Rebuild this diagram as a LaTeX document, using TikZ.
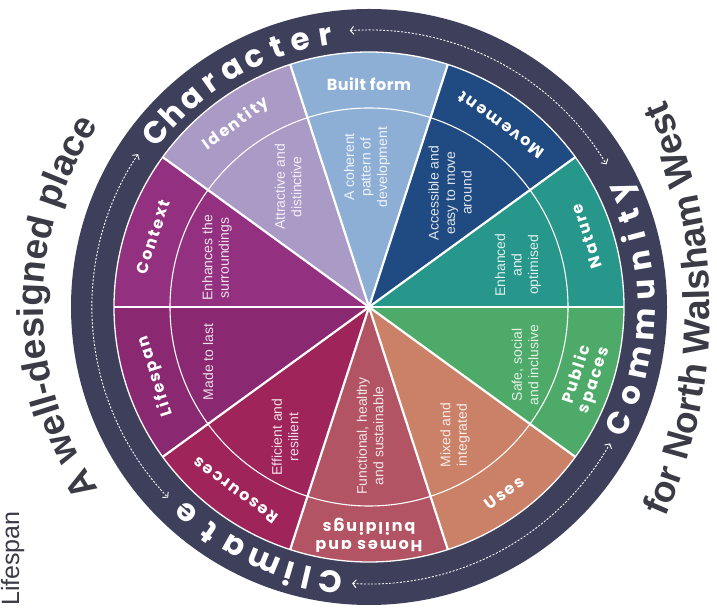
\documentclass[tikz,border=0pt]{standalone}
\usepackage{fontspec}
\setmainfont{Liberation Sans}
\newfontfamily\ringfont{Poppins}
\newfontfamily\labfont[LetterSpace=12]{Poppins}
\newfontfamily\labfontn[LetterSpace=3]{Poppins}
\newfontfamily\descfont{Liberation Sans}
\usetikzlibrary{arrows.meta,decorations.text}

\definecolor{ringc}{HTML}{3E3F5B}
\definecolor{cIdentity}{HTML}{AA9AC6}
\definecolor{cBuilt}{HTML}{8EAFD5}
\definecolor{cMove}{HTML}{1F4B82}
\definecolor{cNature}{HTML}{27968B}
\definecolor{cPublic}{HTML}{4DAA68}
\definecolor{cUses}{HTML}{CB8168}
\definecolor{cHomes}{HTML}{B25463}
\definecolor{cRes}{HTML}{9E2459}
\definecolor{cLife}{HTML}{8A2872}
\definecolor{cContext}{HTML}{933180}
\definecolor{txtgray}{HTML}{3B3B45}

\tikzset{
  wedgeline/.style={white, line width=2.2pt},
  ringletter/.style={text=white, font=\ringfont\bfseries\fontsize{31}{31}\selectfont, inner sep=0pt, anchor=base},
  lab/.style={text=white, font=\labfont\bfseries\fontsize{16}{18}\selectfont, align=center, inner sep=0pt},
  desc/.style={text=white, text opacity=0.85, font=\descfont\fontsize{14}{16.5}\selectfont, align=center, rotate=90, inner sep=0pt},
  ringarrow/.style={white, line width=0.9pt, dash pattern=on 2pt off 1.6pt,
    arrows={Straight Barb[length=3.5pt,width=8pt]-Straight Barb[length=3.5pt,width=8pt]}},
}

\begin{document}
\begin{tikzpicture}[x=1pt,y=1pt]
\useasboundingbox (0,0) rectangle (717,610);
\fill[white] (0,0) rectangle (717,610);
\coordinate (O) at (369,303);

\begin{scope}[shift={(O)}]
  \fill[ringc] (0,0) circle[radius=298pt];
  \foreach \a/\c in {0/cNature,36/cMove,72/cBuilt,108/cIdentity,144/cContext,180/cLife,216/cRes,252/cHomes,288/cUses,324/cPublic}
    \fill[\c] (0,0) -- (\a:255pt) arc[start angle=\a, delta angle=36, radius=255pt] -- cycle;
  \draw[white, line width=1.3pt] (0,0) circle[radius=255pt];
  \draw[white, line width=1.1pt] (0,0) circle[radius=199pt];
  \foreach \a in {0,36,...,324} \draw[wedgeline] (0,0) -- (\a:255pt);

  % ring words
  \foreach \ch/\ang [count=\i] in {C/140.8,h/135.6,a/130.4,r/125.2,a/120,c/114.8,t/109.6,e/104.4,r/99.2}
    \node[ringletter, rotate=\ang-90] (chr\i) at (\ang:265pt) {\ch};
  \foreach \ch/\ang [count=\i] in {C/-25,o/-18.6,m/-11.5,m/-3.6,u/3.5,n/9.6,i/14.7,t/19.2,y/24.4}
    \node[ringletter, rotate=\ang+90] (com\i) at (\ang:286pt) {\ch};
  \foreach \ch/\ang [count=\i] in {C/262,l/257,i/253.3,m/247.6,a/240.6,t/234.8,e/228.5}
    \node[ringletter, rotate=\ang-90] (cli\i) at (\ang:266pt) {\ch};

  % dashed arrows in the ring
  \coordinate (a1) at (94:277pt);
  \coordinate (a2) at (146.5:277pt);
  \coordinate (a3) at (266.5:277pt);
  \draw[ringarrow] (a1) arc[start angle=94, end angle=31, radius=277pt];
  \draw[ringarrow] (a2) arc[start angle=146.5, end angle=223.5, radius=277pt];
  \draw[ringarrow] (a3) arc[start angle=266.5, end angle=330.5, radius=277pt];

  % outer labels
  \node[lab, rotate=36] (lIdentity) at (126:226pt) {Identity};
  \node[lab, font=\labfontn\bfseries\fontsize{16}{18}\selectfont] (lBuilt) at (90:223pt) {Built form};
  \node[lab, rotate=144] (lMove) at (54:225pt) {Movement};
  \node[lab, rotate=108] (lNature) at (18:229pt) {Nature};
  \node[lab, rotate=72] (lPublic) at (342:228pt) {Public\\spaces};
  \node[lab, rotate=36] (lUses) at (306:230pt) {Uses};
  \node[lab, rotate=180] (lHomes) at (270:228pt) {Homes and\\buildings};
  \node[lab, rotate=144] (lRes) at (234:227pt) {Resources};
  \node[lab, rotate=108] (lLife) at (198:224pt) {Lifespan};
  \node[lab, rotate=72] (lContext) at (162:227pt) {Context};

  % curved titles
  \path[decorate, decoration={text along path, text align=center, text color=txtgray,
      text={|\bfseries\fontsize{37}{37}\selectfont|A well-designed place}}]
      (238:326pt) arc[start angle=238, end angle=122, radius=326pt];
\end{scope}
\path[decorate, decoration={text along path, text align=center, text color=txtgray,
    text={|\bfseries\fontsize{37}{37}\selectfont|for North Walsham West}}]
    ([shift={(195pt,301pt)}]-30:515pt) arc[start angle=-30, end angle=30, radius=515pt];

% inner descriptions
\node[desc] (dIdentity) at (288,423) {Attractive and\\distinctive};
\node[desc] (dBuilt) at (367,443) {A coherent\\pattern of\\development};
\node[desc] (dMove) at (450,417) {Accessible and\\easy to move\\around};
\node[desc] (dNature) at (518,345) {Enhanced\\and\\optimised};
\node[desc] (dPublic) at (525,245) {Safe, social\\and inclusive};
\node[desc] (dUses) at (455,175) {Mixed and\\integrated};
\node[desc] (dHomes) at (370,174) {Functional, healthy\\and sustainable};
\node[desc] (dRes) at (285,173) {Efficient and\\resilient};
\node[desc] (dLife) at (208,248) {Made to last};
\node[desc] (dContext) at (217,352) {Enhances the\\surroundings};

% corner text
\node[rotate=90, anchor=base west, inner sep=0pt, text=txtgray, font=\fontsize{25}{25}\selectfont] (corner) at (19,4) {Lifespan};
\end{tikzpicture}
\end{document}
